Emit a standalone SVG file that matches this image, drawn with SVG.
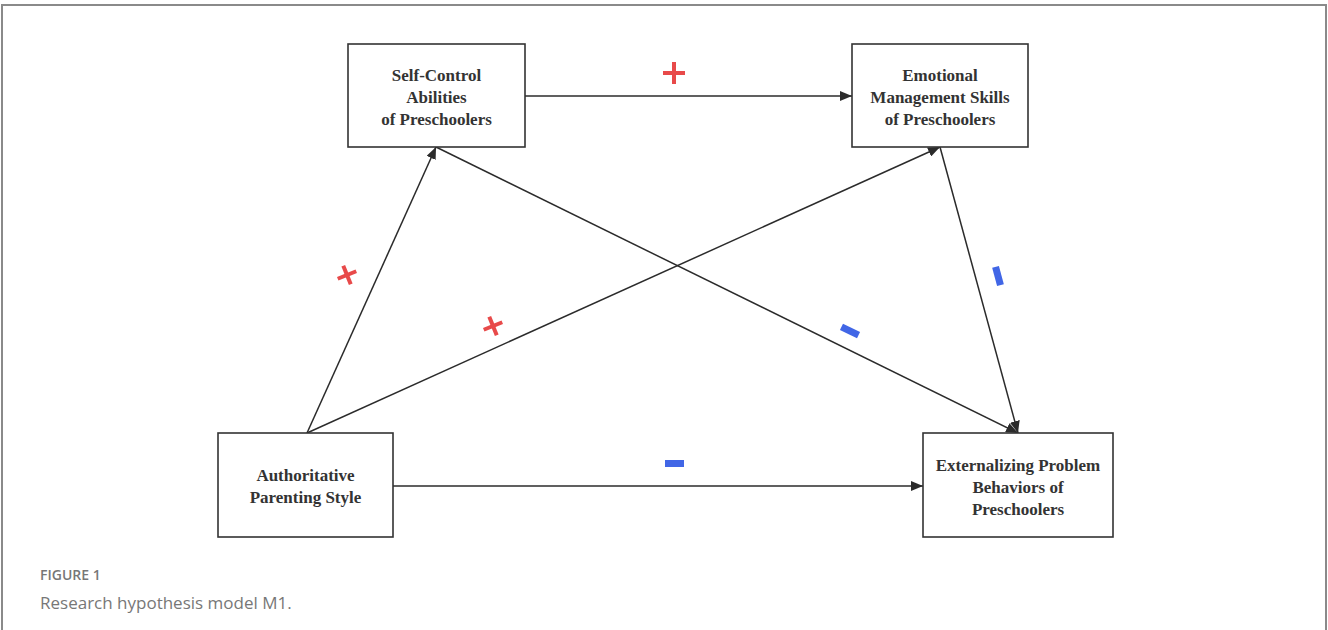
<svg xmlns="http://www.w3.org/2000/svg" width="1328" height="630" viewBox="0 0 1328 630">
<defs>
<marker id="ah" viewBox="0 0 12 10" refX="12" refY="5" markerWidth="12" markerHeight="10" markerUnits="userSpaceOnUse" orient="auto">
<path d="M0,0 L12,5 L0,10 z" fill="#2b2b2b"/>
</marker>
<style>
.box{fill:#fff;stroke:#333;stroke-width:1.6}
.lbl{font-family:"Liberation Serif","Times New Roman",serif;font-weight:bold;font-size:17px;fill:#333;text-anchor:middle}
.conn{stroke:#2b2b2b;stroke-width:1.5;fill:none;marker-end:url(#ah)}
.plus{stroke:#e84a4a;stroke-width:4;fill:none}
.minus{fill:#4166e6}
</style>
</defs>
<rect x="0" y="0" width="1328" height="630" fill="#fff"/>
<path d="M2,640 V5 H1326 V640" fill="none" stroke="#8a8a8a" stroke-width="2"/>
<g id="connectors">
<line class="conn" x1="525" y1="96" x2="852" y2="96"/>
<line class="conn" x1="307" y1="433" x2="436" y2="147"/>
<line class="conn" x1="307" y1="433" x2="940" y2="147"/>
<line class="conn" x1="436" y1="147" x2="1018" y2="433"/>
<line class="conn" x1="940" y1="147" x2="1018" y2="433"/>
<line class="conn" x1="393" y1="486" x2="923" y2="486"/>
</g>
<g id="signs">
<g class="plus"><line x1="663" y1="73" x2="685" y2="73"/><line x1="674" y1="62" x2="674" y2="84"/></g>
<g class="plus" transform="translate(347,275) rotate(-22)"><line x1="-10" y1="0" x2="10" y2="0"/><line x1="0" y1="-10" x2="0" y2="10"/></g>
<g class="plus" transform="translate(493,326) rotate(-22)"><line x1="-10" y1="0" x2="10" y2="0"/><line x1="0" y1="-10" x2="0" y2="10"/></g>
<rect class="minus" x="665" y="460" width="19" height="7"/>
<rect class="minus" x="-9.5" y="-3.5" width="19" height="7" transform="translate(850,331) rotate(26)"/>
<rect class="minus" x="-9.5" y="-3.5" width="19" height="7" transform="translate(998,276) rotate(75)"/>
</g>
<g id="n-selfcontrol">
<rect class="box" x="348" y="44" width="177" height="103"/>
<text class="lbl" x="436.5" y="81">Self-Control</text>
<text class="lbl" x="436.5" y="103">Abilities</text>
<text class="lbl" x="436.5" y="125">of Preschoolers</text>
</g>
<g id="n-emotional">
<rect class="box" x="852" y="44" width="176" height="103"/>
<text class="lbl" x="940" y="81">Emotional</text>
<text class="lbl" x="940" y="103">Management Skills</text>
<text class="lbl" x="940" y="125">of Preschoolers</text>
</g>
<g id="n-authoritative">
<rect class="box" x="218" y="433" width="175" height="104"/>
<text class="lbl" x="305.5" y="481">Authoritative</text>
<text class="lbl" x="305.5" y="503">Parenting Style</text>
</g>
<g id="n-externalizing">
<rect class="box" x="923" y="433" width="190" height="104"/>
<text class="lbl" x="1018" y="471">Externalizing Problem</text>
<text class="lbl" x="1018" y="493">Behaviors of</text>
<text class="lbl" x="1018" y="515">Preschoolers</text>
</g>
<g id="caption">
<text x="40" y="580" font-family="'Open Sans',sans-serif" font-weight="600" font-size="14" fill="#777">FIGURE 1</text>
<text x="40" y="609" font-family="'Open Sans',sans-serif" font-size="17" fill="#777">Research hypothesis model M1.</text>
</g>
</svg>
